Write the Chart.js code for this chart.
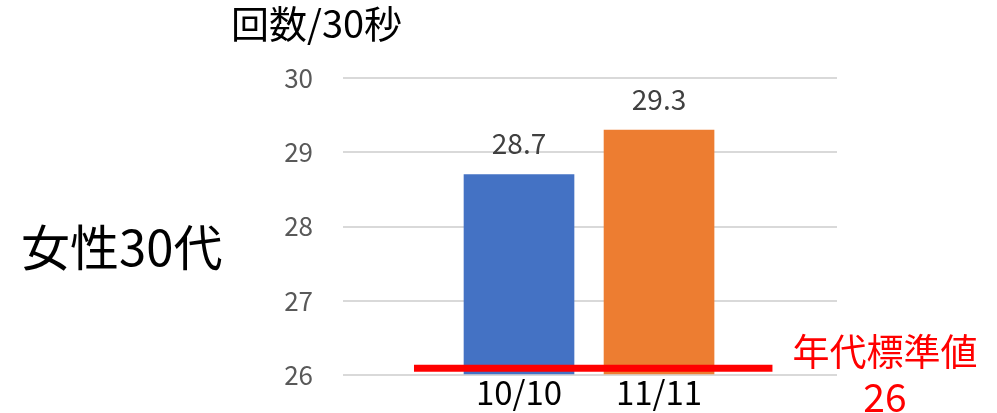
<!DOCTYPE html>
<html>
<head>
<meta charset="utf-8">
<script src="https://cdn.jsdelivr.net/npm/chart.js@4.4.1/dist/chart.umd.min.js"></script>
<style>
  body { margin: 0; background: #fff; }
  #wrap { position: relative; width: 997px; height: 413px; font-family: "Noto Sans CJK JP", "Noto Sans", sans-serif; }
  #wrap canvas { position: absolute; left: 0; top: 0; }
  .txt { position: absolute; line-height: 1; white-space: nowrap; }
  #unit { left: 231px; top: 3px; font-size: 38px; color: #000; }
  #group { left: 21px; top: 220px; font-size: 49px; color: #000; }
  #stdName { left: 785px; top: 332px; width: 200px; text-align: center; font-size: 37px; color: #ff0000; }
  #stdValue { left: 785px; top: 376px; width: 200px; text-align: center; font-size: 39px; color: #ff0000; }
</style>
</head>
<body>
<div id="wrap">
  <canvas id="chart" width="997" height="413"></canvas>
  <div class="txt" id="unit">回数/30秒</div>
  <div class="txt" id="group">女性30代</div>
  <div class="txt" id="stdName">年代標準値</div>
  <div class="txt" id="stdValue">26</div>
</div>
<script>
// data
const categories = ["10/10", "11/11"];
const counts = [28.7, 29.3];
const barColors = ["#4472C4", "#ED7D31"];
const yTicks = [26, 27, 28, 29, 30];
// red standard line, as drawn (x in category units, y in value)
const stdLineX = [-0.75, 1.81];
const stdLineY = [26.09, 26.09];

const font = '"Noto Sans CJK JP", "Noto Sans", sans-serif';

//draw the value above each bar
const valueLabels = {
  id: "valueLabels",
  afterDatasetsDraw(chart) {
    const ctx = chart.ctx;
    const meta = chart.getDatasetMeta(1);
    ctx.save();
    ctx.font = "28px " + font;
    ctx.fillStyle = "#404040";
    ctx.textAlign = "center";
    ctx.textBaseline = "middle";
    meta.data.forEach((bar, i) => {
      ctx.fillText(counts[i].toFixed(1), bar.x, bar.y - 31);
    });
    ctx.restore();
  }
};

const myChart = new Chart(document.getElementById("chart"), {
  type: "bar",
  plugins: [valueLabels],
  data: {
    datasets: [
      {
        type: "line",
        order: 0,
        data: stdLineX.map((x, i) => ({ x: x, y: stdLineY[i] })),
        borderColor: "#ff0000",
        borderWidth: 7,
        borderCapStyle: "butt",
        pointRadius: 0,
        fill: false
      },
      {
        type: "bar",
        order: 1,
        data: categories.map((c, i) => ({ x: i, y: counts[i] })),
        backgroundColor: barColors,
        barThickness: 110,
        base: 26
      }
    ]
  },
  options: {
    responsive: false,
    animation: false,
    layout: { padding: { left: 263, right: 160, top: 78, bottom: 0 } },
    plugins: { legend: { display: false }, tooltip: { enabled: false } },
    scales: {
      x: {
        type: "linear",
        offset: false,
        min: -1.257,
        max: 2.271,
        grid: { display: false },
        border: { display: false },
        afterBuildTicks: s => { s.ticks = categories.map((c, i) => ({ value: i })); },
        afterFit: s => { s.height = 38; s.paddingLeft = 0; s.paddingRight = 0; },
        ticks: {
          padding: -10,
          maxRotation: 0,
          autoSkip: false,
          color: "#000",
          font: { family: font, size: 33 },
          callback: v => categories[v]
        }
      },
      y: {
        min: 26,
        max: 30,
        afterBuildTicks: s => { s.ticks = yTicks.map(v => ({ value: v })); },
        afterFit: s => { s.width = 80; s.paddingTop = 0; s.paddingBottom = 0; },
        grid: { color: "#d9d9d9", lineWidth: 2, drawTicks: false },
        border: { display: false },
        ticks: {
          padding: 30,
          color: "#595959",
          font: { family: font, size: 26 }
        }
      }
    }
  }
});
</script>
</body>
</html>
